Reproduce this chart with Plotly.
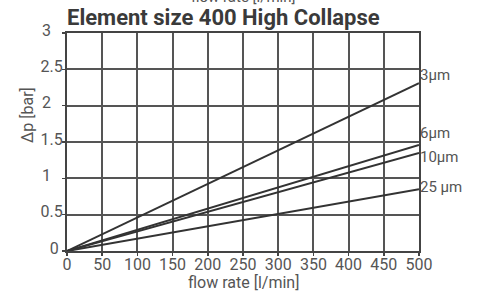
import plotly.graph_objects as go

flow = [0, 500]
dp_3um = [0, 2.31]
dp_6um = [0, 1.46]
dp_10um = [0, 1.35]
dp_25um = [0, 0.85]
series = [("3µm", dp_3um, 2.42), ("6µm", dp_6um, 1.62), ("10µm", dp_10um, 1.29), ("25 µm", dp_25um, 0.88)]
x_ticks = [0, 50, 100, 150, 200, 250, 300, 350, 400, 450, 500]
y_ticks = [0, 0.5, 1, 1.5, 2, 2.5, 3]
NB = "\u00a0"
y_tick_text = ["0" + NB, "0.5", "1" + NB * 3, "1.5", "2" + NB * 3, "2.5", "3" + NB * 3]

FONT = "Roboto, Arial"
TXT = "#555555"
fig = go.Figure()
for name, ys, ly in series:
    fig.add_trace(go.Scatter(x=flow, y=ys, mode="lines", line=dict(color="#333333", width=2),
                             showlegend=False, hoverinfo="skip"))
    fig.add_annotation(x=500, y=ly, xref="x", yref="y", text=name, showarrow=False,
                       xanchor="left", yanchor="middle", xshift=-1,
                       font=dict(family=FONT, size=15, color=TXT))

fig.add_annotation(x=0.5, y=1, xref="paper", yref="paper", text="<b>Element size 400 High Collapse</b>",
                   showarrow=False, xanchor="center", yanchor="bottom", yshift=1, xshift=-20,
                   font=dict(family="Roboto, Arial", size=22, color="#3a3a3a"))
fig.add_annotation(x=0.5, y=1, xref="paper", yref="paper", text="flow rate [l/min]",
                   showarrow=False, xanchor="center", yanchor="middle", yshift=36,
                   font=dict(family=FONT, size=15, color=TXT))
fig.add_annotation(x=0.5, y=0, xref="paper", yref="paper", text="flow rate [l/min]",
                   showarrow=False, xanchor="center", yanchor="middle", yshift=-31,
                   font=dict(family=FONT, size=16, color=TXT))
fig.add_annotation(x=(28 - 67) / 352, y=(251 - 115) / 218, xref="paper", yref="paper", text="Δp [bar]",
                   showarrow=False, textangle=-90, xanchor="center", yanchor="middle",
                   font=dict(family=FONT, size=16, color=TXT))

axis_common = dict(showline=True, linecolor="#444444", linewidth=2, mirror=True,
                   gridcolor="#555555", gridwidth=2, zeroline=False, automargin=False,
                   ticks="outside", ticklen=3, tickcolor="#444444", tickwidth=1.5,
                   tickfont=dict(family=FONT, size=16, color=TXT))
fig.update_xaxes(range=[0, 500], tickvals=x_ticks, ticklabelstandoff=-5, **axis_common)
fig.update_yaxes(range=[0, 3], tickvals=y_ticks, ticktext=y_tick_text, ticklabelstandoff=-4,
                 ticklabelshift=-3, **axis_common)
fig.update_layout(width=482, height=293, margin=dict(l=67, r=63, t=33, b=42),
                  plot_bgcolor="white", paper_bgcolor="white", hovermode=False)
fig.write_html("out.html", config={"displayModeBar": False, "staticPlot": True},
               post_script="document.body.style.margin='0';")
